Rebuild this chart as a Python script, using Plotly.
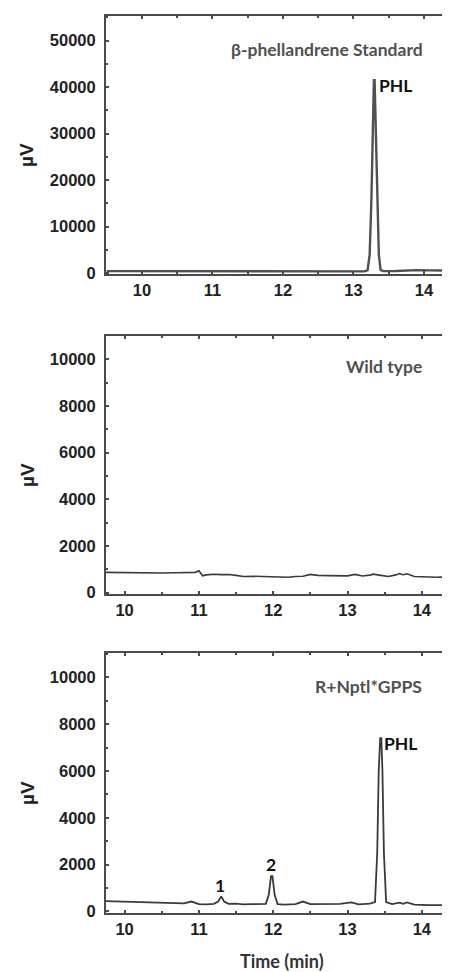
import plotly.graph_objects as go

# ---------------- data ----------------
std_time = [9.50, 10.0, 10.5, 11.0, 11.5, 12.0, 12.5, 13.0, 13.15, 13.20, 13.23, 13.255,
            13.275, 13.29, 13.30, 13.315, 13.335, 13.36, 13.385, 13.42, 13.6, 13.9, 14.1, 14.48]
std_uv = [450, 420, 400, 380, 360, 350, 350, 360, 380, 600, 4000, 16000,
          33000, 41500, 41500, 33000, 16000, 4000, 700, 450, 480, 650, 600, 550]

wt_time = [9.75, 9.9, 10.1, 10.3, 10.5, 10.7, 10.85, 10.95, 11.0, 11.05, 11.1, 11.2, 11.3,
           11.4, 11.5, 11.6, 11.75, 11.9, 12.0, 12.1, 12.2, 12.3, 12.4, 12.5, 12.6, 12.75,
           12.9, 13.0, 13.1, 13.2, 13.3, 13.35, 13.45, 13.55, 13.65, 13.7, 13.75, 13.8,
           13.9, 14.0, 14.2, 14.48]
wt_uv = [870, 860, 850, 845, 840, 850, 850, 870, 940, 720, 760, 790, 770,
         780, 740, 690, 700, 680, 690, 670, 660, 690, 700, 780, 740, 730,
         740, 720, 780, 710, 750, 790, 740, 690, 760, 820, 770, 810,
         690, 670, 660, 670]

gpps_time = [9.75, 10.0, 10.3, 10.6, 10.8, 10.9, 11.0, 11.1, 11.2, 11.26, 11.3, 11.34, 11.4,
             11.5, 11.6, 11.7, 11.8, 11.9, 11.94, 11.97, 11.99, 12.02, 12.06, 12.15,
             12.3, 12.4, 12.5, 12.7, 12.9, 13.05, 13.15, 13.3, 13.37, 13.40, 13.42, 13.44,
             13.455, 13.47, 13.49, 13.52, 13.6, 13.7, 13.75, 13.8, 13.9, 14.1, 14.48]
gpps_uv = [440, 420, 390, 360, 340, 420, 310, 300, 320, 420, 640, 420, 320,
           330, 300, 310, 320, 320, 700, 1500, 1500, 700, 310, 290,
           310, 420, 310, 300, 320, 380, 300, 330, 400, 2500, 6000, 7400,
           7400, 6000, 2500, 400, 310, 370, 320, 380, 290, 270, 270]

std_yticks = [0, 10000, 20000, 30000, 40000, 50000]
small_yticks = [0, 2000, 4000, 6000, 8000, 10000]
x_ticks = [10, 11, 12, 13, 14]

# ---------------- figure ----------------
LINE = "#3a3a3a"
AX = "#4a4a4a"
tickfont = dict(family="Liberation Sans, Arial, sans-serif", size=16.5, color="#222", weight="bold")
lab_font = dict(family="Lato, Carlito, sans-serif", size=17.5, color="#505050", weight="bold")
blk_font = dict(family="Lato, Carlito, sans-serif", size=17.5, color="#111", weight="bold")

fig = go.Figure()
fig.add_trace(go.Scatter(x=std_time, y=std_uv, mode="lines", line=dict(color="#505050", width=2.4),
                         xaxis="x", yaxis="y", showlegend=False, hoverinfo="skip"))
fig.add_trace(go.Scatter(x=wt_time, y=wt_uv, mode="lines", line=dict(color=LINE, width=1.6),
                         xaxis="x2", yaxis="y2", showlegend=False, hoverinfo="skip"))
fig.add_trace(go.Scatter(x=gpps_time, y=gpps_uv, mode="lines", line=dict(color=LINE, width=1.8),
                         xaxis="x3", yaxis="y3", showlegend=False, hoverinfo="skip"))

def xax(rng, anchor):
    return dict(range=rng, domain=[0, 1], anchor=anchor, tickvals=x_ticks,
                ticktext=[str(v) for v in x_ticks], ticks="inside",
                ticklen=3, tickwidth=2, tickcolor=AX, showline=True, linecolor=AX, linewidth=2,
                mirror="ticks", showgrid=False, zeroline=False, tickfont=tickfont,
                ticklabelstandoff=0, automargin=False,
                minor=dict(dtick=0.5, tick0=0, ticks="inside", ticklen=2, tickwidth=1.5, tickcolor=AX))

def yax(rng, dom, anchor, vals, minor):
    return dict(range=rng, domain=dom, anchor=anchor, tickvals=vals,
                ticktext=[str(v) for v in vals], ticks="inside",
                ticklen=3, tickwidth=1.5, tickcolor=AX, showline=True, linecolor=AX, linewidth=2,
                mirror=False, showgrid=False, zeroline=False, tickfont=tickfont,
                ticklabelstandoff=5, automargin=False,
                minor=dict(dtick=minor, tick0=0, ticks="inside", ticklen=2, tickwidth=1.5, tickcolor=AX))

# the page body has an 8px default margin, so the layout is shifted by -8px to compensate
fig.update_layout(
    width=450, height=972,
    margin=dict(l=98, r=0, t=8, b=67),
    paper_bgcolor="white", plot_bgcolor="white",
    xaxis=xax([9.49, 14.483], "y"),
    yaxis=yax([-250, 55300], [0.712, 1.0], "x", std_yticks, 5000),
    xaxis2=xax([9.75, 14.487], "y2"),
    yaxis2=yax([-60, 11000], [0.3556, 0.6433], "x2", small_yticks, 1000),
    xaxis3=xax([9.75, 14.487], "y3"),
    yaxis3=yax([-70, 11045], [0.0, 0.2899], "x3", small_yticks, 1000),
)

ann = [
    dict(x=14.01, y=48100, xref="x", yref="y", text="β-phellandrene Standard", xanchor="right",
         yanchor="middle", font=lab_font),
    dict(x=13.33, y=40300, xref="x", yref="y", text="PHL", xanchor="left", yanchor="middle", font=blk_font),
    dict(x=14.03, y=9690, xref="x2", yref="y2", text="Wild type", xanchor="right", yanchor="middle", font=lab_font),
    dict(x=14.03, y=9610, xref="x3", yref="y3", text="R+Nptl*GPPS", xanchor="right", yanchor="middle", font=lab_font),
    dict(x=13.47, y=7160, xref="x3", yref="y3", text="PHL", xanchor="left", yanchor="middle", font=blk_font),
    dict(x=11.28, y=1110, xref="x3", yref="y3", text="1", xanchor="center", yanchor="middle", font=blk_font),
    dict(x=11.97, y=2020, xref="x3", yref="y3", text="2", xanchor="center", yanchor="middle", font=blk_font),
    dict(x=0.5, y=-0.0535, xref="paper", yref="paper", text="Time (min)", xanchor="center",
         yanchor="middle", font=dict(family="Lato, Carlito, sans-serif", size=18, color="#333", weight="bold")),
]
for yc in [155, 475, 793]:
    ann.append(dict(x=(19 - 98) / 352, y=(913 - yc) / 897, xref="paper", yref="paper", text="µV",
                    textangle=-90, xanchor="center", yanchor="middle",
                    font=dict(family="Liberation Sans, Arial, sans-serif", size=19, color="#222", weight="bold")))
for a in ann:
    a.setdefault("showarrow", False)
fig.update_layout(annotations=ann)

fig.write_html("out.html")
